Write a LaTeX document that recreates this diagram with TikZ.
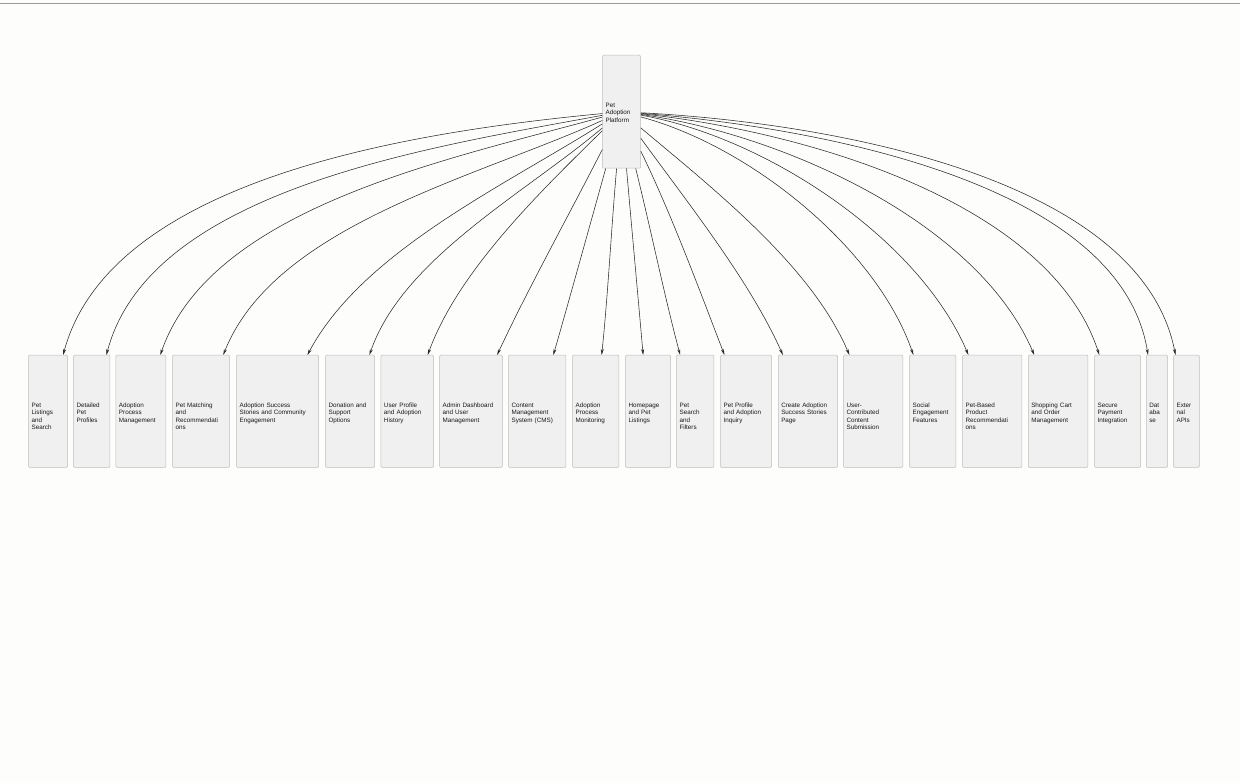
\documentclass[tikz,border=0pt]{standalone}
\usepackage{fontspec}
\setmainfont{Liberation Sans}
\usetikzlibrary{arrows, arrows.meta}
\usetikzlibrary{calc}
\definecolor{paper}{HTML}{FDFDFB}
\definecolor{boxfill}{HTML}{F0F0F0}
\definecolor{boxline}{HTML}{BDBDBD}
\definecolor{linkcol}{HTML}{2A2A2A}
\definecolor{rulecol}{HTML}{9A9A9A}

\begin{document}
\begin{tikzpicture}[x=1pt, y=1pt,
    box/.style={draw=boxline, fill=boxfill, line width=0.5pt, rounded corners=1pt, inner xsep=3pt, inner ysep=0pt,
      align=left, anchor=north west, text=black!90, font=\fontsize{6.3}{7.5}\selectfont, text height=52pt, text depth=60pt},
    link/.style={draw=linkcol, line width=0.55pt, looseness=0.8, -{Stealth[length=6pt, width=3pt]}}]
      \fill[paper] (0,0) rectangle (1240,-783);
      \useasboundingbox (0,0) rectangle (1240,-783);
      \draw[rulecol, line width=1.3pt] (0,-3.5) -- (1240,-3.5);

      \node[box, text width=32pt, text depth=61pt] (0) at (602.3,-55) {Pet\\Adoption\\Platform};

      \node[box, text width=33pt] (1) at (28.3,-355) {Pet\\Listings\\and\\Search};
      \node[box, text width=30.4pt] (2) at (73.3,-355) {Detailed\\Pet\\Profiles};
      \node[box, text width=44pt] (3) at (115.7,-355) {Adoption\\Process\\Management};
      \node[box, text width=51pt] (4) at (172.3,-355) {Pet Matching\\and\\Recommendati\\ons};
      \node[box, text width=76pt] (5) at (236.3,-355) {Adoption Success\\Stories and Community\\Engagement};
      \node[box, text width=43pt] (6) at (325.3,-355) {Donation and\\Support\\Options};
      \node[box, text width=46.6pt] (7) at (380.7,-355) {User Profile\\and Adoption\\History};
      \node[box, text width=56.7pt] (8) at (439.3,-355) {Admin Dashboard\\and User\\Management};
      \node[box, text width=51.4pt] (9) at (508.3,-355) {Content\\Management\\System (CMS)};
      \node[box, text width=40.4pt] (10) at (572.3,-355) {Adoption\\Process\\Monitoring};
      \node[box, text width=39pt] (11) at (625.3,-355) {Homepage\\and Pet\\Listings};
      \node[box, text width=31.4pt] (12) at (676.3,-355) {Pet\\Search\\and\\Filters};
      \node[box, text width=45pt] (13) at (720.3,-355) {Pet Profile\\and Adoption\\Inquiry};
      \node[box, text width=53.3pt] (14) at (778,-355) {Create Adoption\\Success Stories\\Page};
      \node[box, text width=53.4pt] (15) at (843.3,-355) {User-\\Contributed\\Content\\Submission};
      \node[box, text width=40.4pt] (16) at (909.3,-355) {Social\\Engagement\\Features};
      \node[box, text width=53.4pt] (17) at (962.3,-355) {Pet-Based\\Product\\Recommendati\\ons};
      \node[box, text width=53.7pt] (18) at (1028,-355) {Shopping Cart\\and Order\\Management};
      \node[box, text width=40pt] (19) at (1094.3,-355) {Secure\\Payment\\Integration};
      \node[box, text width=15.3pt] (20) at (1146,-355) {Dat\\aba\\se};
      \node[box, text width=19.7pt] (21) at (1173.3,-355) {Exter\\nal\\APIs};

      \draw[link] (0) to[out=185.5, in=75] (1);
      \draw[link] (0) to[out=190.6, in=75.5] (2);
      \draw[link] (0) to[out=195.5, in=71] (3);
      \draw[link] (0) to[out=204.4, in=68.6] (4);
      \draw[link] (0) to[out=212.3, in=62] (5);
      \draw[link] (0) to[out=220.2, in=71] (6);
      \draw[link] (0) to[out=224.7, in=70] (7);
      \draw[link] (0) to[out=243, in=65] (8);
      \draw[link] (0) to[out=254.8, in=74] (9);
      \draw[link] (0) to[out=265, in=84] (10);
      \draw[link] (0) to[out=275, in=95] (11);
      \draw[link] (0) to[out=284, in=105] (12);
      \draw[link] (0) to[out=296, in=111] (13);
      \draw[link] (0) to[out=306, in=114] (14);
      \draw[link] (0) to[out=320, in=113] (15);
      \draw[link] (0) to[out=345, in=109] (16);
      \draw[link] (0) to[out=350, in=113] (17);
      \draw[link] (0) to[out=352, in=113] (18);
      \draw[link] (0) to[out=354, in=108] (19);
      \draw[link] (0) to[out=355.5, in=99] (20);
      \draw[link] (0) to[out=357, in=101] (21);
    \end{tikzpicture}
\end{document}
